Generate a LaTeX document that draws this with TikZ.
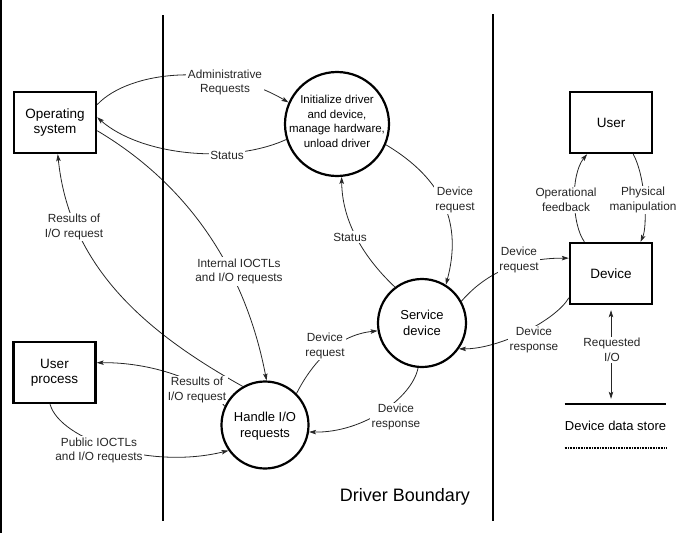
\documentclass[tikz,border=0pt]{standalone}
\usepackage{fontspec}
\setmainfont{Liberation Sans}
\usetikzlibrary{arrows.meta}
\pgfdeclarelayer{bg}
\pgfdeclarelayer{mid}
\pgfsetlayers{bg,mid,main}
\begin{document}
\begin{tikzpicture}[x=1pt,y=-1pt,
  lbl/.style={fill=white, inner sep=1.5pt, align=center, font=\fontsize{11.8}{14.5}\selectfont, text=black!85},
  box/.style={draw, line width=2.4pt, minimum width=82pt, minimum height=61pt, align=center, font=\fontsize{13.5}{15.5}\selectfont},
  circ/.style={draw, circle, line width=2.2pt, inner sep=0pt},
  ctext/.style={align=center, inner sep=0pt},
  flow/.style={line width=0.8pt, draw=black!85},
  tip/.tip={Stealth[length=7pt,width=4.5pt,inset=1.5pt]},
  arr/.style={flow, -tip},
  darr/.style={flow, tip-tip, shorten <=5pt, shorten >=5pt},
  bound/.style={line width=2pt}
]
\useasboundingbox (0,0) rectangle (687,533);
\draw[line width=1.6pt] (0.8,0) -- (0.8,533);

% boundaries
\draw[bound] (163,15) -- (163,521);
\draw[bound] (493,14) -- (493,521);

% external entities
\node[box] (os) at (55,122.5) {Operating\\system};
\node[box] (up) at (54.5,372.5) {User\\process};
\node[box] (user) at (611,122.5) {User};
\node[box] (dev) at (611,273.5) {Device};

% processes
\node[circ, minimum size=104pt] (init) at (337,124) {};
\node[ctext, font=\fontsize{11.5}{14.6}\selectfont] (initT) at (337,121.5) {Initialize driver\\and device,\\manage hardware,\\unload driver};
\node[circ, minimum size=88pt] (svc) at (422,323) {};
\node[ctext, font=\fontsize{13}{16}\selectfont] (svcT) at (422,323) {Service\\device};
\node[circ, minimum size=87pt] (hio) at (265,425) {};
\node[ctext, font=\fontsize{13}{16}\selectfont] (hioT) at (265,426.5) {Handle I/O\\requests};

% data store
\node[minimum width=95pt, minimum height=44pt, inner sep=0pt, font=\fontsize{13}{15}\selectfont] (store) at (615.5,426) {Device data store};
\draw[line width=1.8pt] (store.north west) -- (store.north east);
\draw[line width=1.6pt, dash pattern=on 1pt off 0.6pt] (store.south west) -- (store.south east);

\node[font=\fontsize{18}{20}\selectfont] (db) at (405,497) {Driver Boundary};

% flows
\begin{pgfonlayer}{bg}
\draw[arr] (os.23) .. controls (130,70) and (220,62) .. (init.156);
\draw[arr] (init.197) .. controls (230,165) and (140,155) .. (os.7);
\draw[arr] (os.-11) .. controls (217,202) and (253,310) .. (hio.88);
\draw[arr] (hio.120) .. controls (143,331) and (69,265) .. (os.-85);
\draw[arr] (svc.127) .. controls (360,254) and (342,218) .. (init.-85);
\draw[arr] (init.-23) .. controls (445,180) and (462,225) .. (svc.58);
\draw[arr] (svc.29) .. controls (480,280) and (510,258) .. (dev.160);
\draw[arr] (dev.210) .. controls (556,320) and (500,349) .. (svc.-35);
\draw[arr] (svc.-95) .. controls (412,398) and (363,433) .. (hio.-9);
\draw[arr] (hio.45) .. controls (312,363) and (337,335) .. (svc.190);
\draw[arr] (hio.155) .. controls (205,380) and (150,362) .. (up.13);
\draw[arr] (up.-98) .. controls (60,440) and (150,470) .. (hio.215);
\draw[arr] (dev.130) .. controls (572,225) and (570,175) .. (user.-127);
\draw[arr] (user.-55) .. controls (645,175) and (648,225) .. (dev.47);
\draw[darr] (dev.south) -- (dev.south |- store.north);
\end{pgfonlayer}

% flow labels
\begin{pgfonlayer}{mid}
\node[lbl] (l1) at (225,82.5) {Administrative\\Requests};
\node[lbl] (l2) at (227,155) {Status};
\node[lbl] (l3) at (239,271.5) {Internal IOCTLs\\and I/O requests};
\node[lbl] (l4) at (74,227) {Results of\\I/O request};
\node[lbl] (l5) at (350,237) {Status};
\node[lbl] (l6) at (455,200) {Device\\request};
\node[lbl] (l7) at (519,260) {Device\\request};
\node[lbl] (l8) at (534,340) {Device\\response};
\node[lbl] (l9) at (396,417) {Device\\response};
\node[lbl] (l10) at (325,346) {Device\\request};
\node[lbl] (l11) at (197,390) {Results of\\I/O request};
\node[lbl] (l12) at (99,450.5) {Public IOCTLs\\and I/O requests};
\node[lbl] (l13) at (566,200) {Operational\\feedback};
\node[lbl] (l14) at (643,200) {Physical\\manipulation};
\node[lbl] (l15) at (612,350) {Requested\\I/O};
\end{pgfonlayer}
\end{tikzpicture}
\end{document}
